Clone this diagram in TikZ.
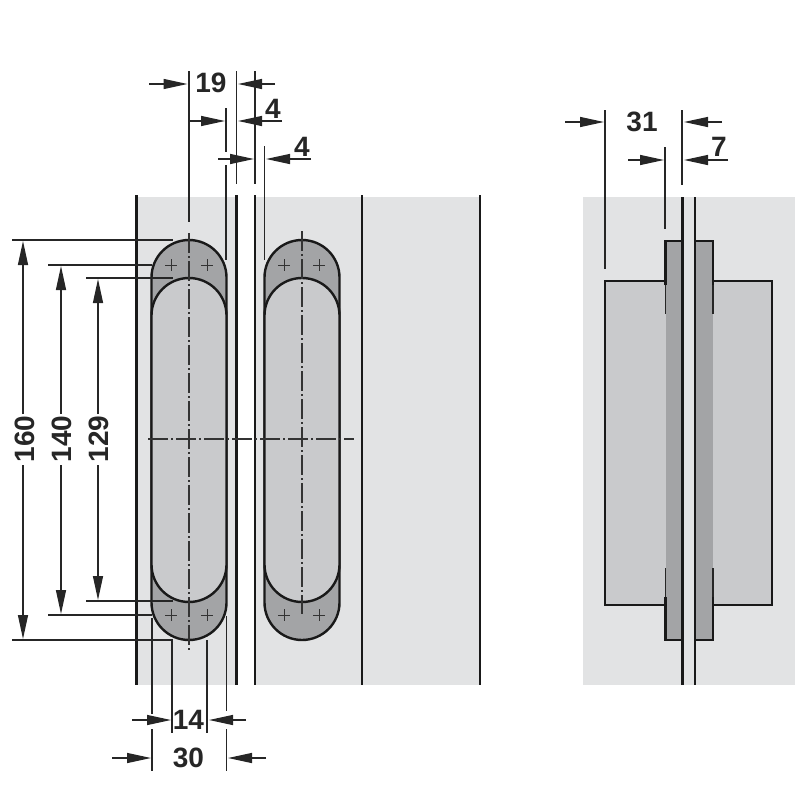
\documentclass[tikz,border=0pt]{standalone}
\usepackage{fontspec}
\setmainfont{Liberation Sans}
\usetikzlibrary{arrows.meta}
\definecolor{panelgray}{HTML}{E2E3E4}
\definecolor{bodygray}{HTML}{C9CACC}
\definecolor{capgray}{HTML}{A3A4A6}
\tikzstyle{outline} = [line width=2.4pt, draw=black!90]
\tikzstyle{leader} = [line width=1.3pt, draw=black!85]
\tikzstyle{centerline} = [line width=1.2pt, draw=black!80, dash pattern=on 20pt off 3pt on 2pt off 3pt]
\tikzstyle{arrow} = [line width=1.3pt, draw=black!85, -{Triangle[length=24pt,width=10pt]}]
\tikzstyle{dimtext} = [font=\bfseries\fontsize{28}{28}\selectfont, text=black!85, inner sep=0pt]
\tikzstyle{heighttext} = [dimtext, rotate=90, inner xsep=4pt]
% stadium shape: centre x, top y, bottom y
\newcommand{\slotpath}[3]{(#1-37.5,#2+37.5) arc (180:360:37.5) -- (#1+37.5,#3-37.5) arc (0:180:37.5) -- cycle}
\newcommand{\screwmark}[2]{\draw [line width=1pt, draw=black!80] (#1-6,#2) -- (#1+6,#2) (#1,#2-6) -- (#1,#2+6);}
\begin{document}
\begin{tikzpicture}[x=1pt, y=-1pt]
\useasboundingbox (0,0) rectangle (800,803);
% panels
\fill [panelgray] (137,197) rectangle (237,685);
\fill [panelgray] (255,197) rectangle (480,685);
\fill [panelgray] (583,197) rectangle (795,685);
% left view, door edges
\foreach \xa in {136.5,236.5,255,362,480}
  \draw [outline] (\xa,195) -- (\xa,685);
% left view, hinges
\foreach \xa in {189,302} {
  \draw [outline, fill=capgray] \slotpath{\xa}{240}{640};
  \draw [outline, fill=bodygray] \slotpath{\xa}{278}{602};
}
\foreach \xa in {171,207,284,319} {
  \screwmark{\xa}{265}
  \screwmark{\xa}{615}
}
% centre lines
\draw [centerline] (189,233) -- (189,652);
\draw [centerline] (302,231) -- (302,614);
\draw [centerline] (148,439) -- (354,439);
% top leaders
\draw [leader] (189,71) -- (189,222);
\draw [leader] (236.5,71) -- (236.5,184);
\draw [leader] (255,71) -- (255,184);
\draw [leader] (226,108) -- (226,152);
\draw [leader] (226,165) -- (226,260);
\draw [leader] (264.5,146) -- (264.5,260);
% top dimensions
\draw [arrow] (149,84) -- (187.5,84);
\draw [arrow] (275,84) -- (238,84);
\draw [arrow] (189,121) -- (225,121);
\draw [arrow] (282,121) -- (238,121);
\draw [arrow] (218,159) -- (254,159);
\draw [arrow] (311,159) -- (266,159);
\node (dimNineteen) [dimtext] at (211,83) {19};
\node (dimFourA) [dimtext] at (273,109) {4};
\node (dimFourB) [dimtext] at (302,147) {4};
% left leaders
\draw [leader] (12,240) -- (173,240);
\draw [leader] (48,265) -- (152,265);
\draw [leader] (86,278) -- (173,278);
\draw [leader] (86,601) -- (173,601);
\draw [leader] (48,615) -- (152,615);
\draw [leader] (12,640) -- (173,640);
% left dimensions
\node (dimHeightA) [heighttext] at (25,439) {160};
\node (dimHeightB) [heighttext] at (62,439) {140};
\node (dimHeightC) [heighttext] at (99,439) {129};
\draw [arrow] (23,414) -- (23,241);
\draw [arrow] (23,465) -- (23,639);
\draw [arrow] (61,414) -- (61,266);
\draw [arrow] (61,465) -- (61,614);
\draw [arrow] (98,414) -- (98,279);
\draw [arrow] (98,465) -- (98,600);
% bottom leaders
\draw [leader] (152,618) -- (152,714);
\draw [leader] (152,729) -- (152,771);
\draw [leader] (172,640) -- (172,733);
\draw [leader] (207,640) -- (207,733);
\draw [leader] (226.5,616) -- (226.5,711);
\draw [leader] (226.5,729) -- (226.5,771);
% bottom dimensions
\draw [arrow] (132,720) -- (171,720);
\draw [arrow] (246,720) -- (209,720);
\draw [arrow] (112,758) -- (151,758);
\draw [arrow] (266,758) -- (228,758);
\node (dimFourteen) [dimtext] at (188.5,720) {14};
\node (dimThirty) [dimtext] at (188.5,758) {30};
% right view
\fill [bodygray] (605,281) rectangle (665.5,605);
\fill [bodygray] (713,281) rectangle (772,605);
\fill [capgray] (665.5,241) rectangle (682.5,640);
\fill [capgray] (695,241) rectangle (713,640);
\draw [outline] (665.5,285) -- (665.5,281) -- (605,281) -- (605,605) -- (665.5,605) -- (665.5,597);
\draw [outline] (713,285) -- (713,281) -- (772,281) -- (772,605) -- (713,605) -- (713,597);
\draw [outline] (665.5,285) -- (665.5,241) -- (682.5,241);
\draw [outline] (713,285) -- (713,241) -- (695,241);
\draw [outline] (665.5,597) -- (665.5,640) -- (682.5,640);
\draw [outline] (713,597) -- (713,640) -- (695,640);
\draw [leader] (665.5,285) -- (665.5,314) (713,285) -- (713,314);
\draw [leader] (665.5,568) -- (665.5,597) (713,568) -- (713,597);
\draw [outline] (682.5,197) -- (682.5,685);
\draw [outline] (695,197) -- (695,685);
% right view, leaders and dimensions
\draw [leader] (605,110) -- (605,269);
\draw [leader] (682,110) -- (682,185);
\draw [leader] (665,147) -- (665,229);
\draw [arrow] (565,122) -- (604,122);
\draw [arrow] (722,122) -- (684,122);
\draw [arrow] (628,160) -- (664,160);
\draw [arrow] (728,160) -- (684,160);
\node (dimDepth) [dimtext] at (642,122) {31};
\node (dimPlate) [dimtext] at (719,147) {7};
\end{tikzpicture}
\end{document}
